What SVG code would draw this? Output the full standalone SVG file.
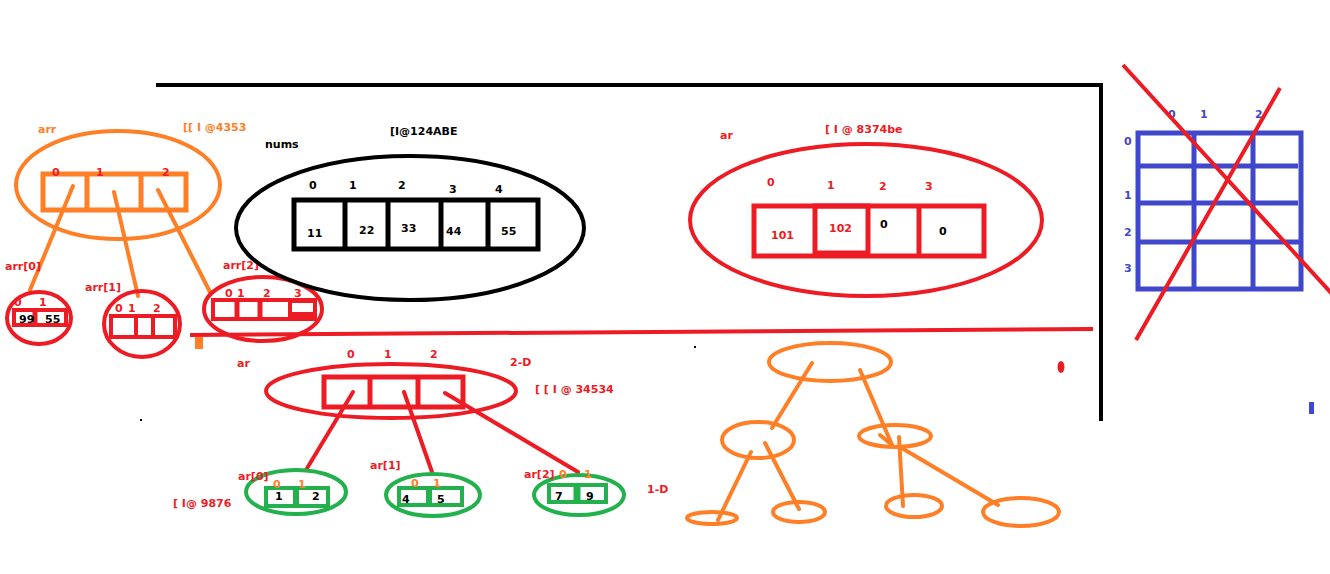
<svg xmlns="http://www.w3.org/2000/svg" width="1330" height="574" viewBox="0 0 1330 574">
<style>
text{font-family:"DejaVu Sans","Liberation Sans",sans-serif;font-weight:bold;font-size:11px}
.o{fill:#FF7F27}.r{fill:#ED1C24}.k{fill:#000}.b{fill:#3F48CC}
.so{fill:none;stroke:#FF7F27;stroke-width:4}
.sr{fill:none;stroke:#ED1C24;stroke-width:4}
.sk{fill:none;stroke:#000;stroke-width:4}
.sg{fill:none;stroke:#22B14C;stroke-width:4}
.sb{fill:none;stroke:#3F48CC;stroke-width:5}
.lo{stroke:#FF7F27;stroke-width:4;stroke-linecap:round;fill:none}
.lr{stroke:#ED1C24;stroke-width:4;stroke-linecap:round;fill:none}
</style>
<rect width="1330" height="574" fill="#fff"/>

<g id="frame">
<path d="M156 85H1101V421" fill="none" stroke="#000" stroke-width="4"/>
<path d="M190 335L1093 329" stroke="#ED1C24" stroke-width="4" fill="none"/>
<rect x="195" y="337" width="8" height="12" fill="#FF7F27"/>
<ellipse cx="1061" cy="367" rx="3.5" ry="6" fill="#ED1C24"/>
<rect x="1309" y="402" width="5" height="12" fill="#3F48CC"/>
<rect x="140" y="419" width="2" height="2" fill="#000"/>
<rect x="694" y="346" width="2" height="2" fill="#000"/>
</g>

<g id="connectors">
<path class="lo" d="M73 186L30 290"/>
<path class="lo" d="M114 192L138 296"/>
<path class="lo" d="M158 190L210 292"/>
<path class="lr" d="M353 392L306 470"/>
<path class="lr" d="M404 392L432 472"/>
<path class="lr" d="M445 393L578 472"/>
<path class="lo" d="M812 363L772 428"/>
<path class="lo" d="M860 370L892 445"/>
<path class="lo" d="M880 435L892 445"/>
<path class="lo" d="M751 452L718 520"/>
<path class="lo" d="M765 443L799 509"/>
<path class="lo" d="M899 437L903 506"/>
<path class="lo" d="M900 447L998 505"/>
</g>

<g id="arr">
<ellipse class="so" cx="118" cy="185" rx="102" ry="54"/>
<rect x="43" y="174" width="143" height="36" fill="none" stroke="#FF7F27" stroke-width="5"/>
<path d="M87 174V210M141 174V210" stroke="#FF7F27" stroke-width="5"/>
<text x="38" y="133" class="o">arr</text>
<text x="183" y="131" class="o">[[ I @4353</text>
<text x="52" y="176" class="r">0</text>
<text x="96" y="176" class="r">1</text>
<text x="162" y="176" class="r">2</text>
</g>

<g id="arr0">
<ellipse class="sr" cx="39" cy="318" rx="32" ry="26"/>
<rect x="14" y="310" width="52" height="15" fill="none" stroke="#ED1C24" stroke-width="4"/>
<path d="M35 310V325" stroke="#ED1C24" stroke-width="5"/>
<text x="5" y="270" class="r">arr[0]</text>
<text x="14" y="306" class="r">0</text>
<text x="39" y="306" class="r">1</text>
<text x="19" y="323" class="k">99</text>
<text x="45" y="323" class="k">55</text>
</g>

<g id="arr1">
<ellipse class="sr" cx="142" cy="324" rx="38" ry="33"/>
<rect x="111" y="316" width="64" height="21" fill="none" stroke="#ED1C24" stroke-width="4"/>
<path d="M136 316V337M153 316V337" stroke="#ED1C24" stroke-width="4"/>
<text x="85" y="291" class="r">arr[1]</text>
<text x="115" y="312" class="r">0</text>
<text x="128" y="312" class="r">1</text>
<text x="153" y="312" class="r">2</text>
</g>

<g id="arr2">
<ellipse class="sr" cx="263" cy="309" rx="59" ry="32"/>
<rect x="213" y="300" width="102" height="19" fill="none" stroke="#ED1C24" stroke-width="4"/>
<path d="M237 300V319M260 300V319" stroke="#ED1C24" stroke-width="5"/>
<rect x="288" y="300" width="27" height="19" fill="#ED1C24"/>
<rect x="292" y="303" width="21" height="9" fill="#fff"/>
<text x="223" y="269" class="r">arr[2]</text>
<text x="225" y="297" class="r">0</text>
<text x="237" y="297" class="r">1</text>
<text x="263" y="297" class="r">2</text>
<text x="294" y="297" class="r">3</text>
</g>

<g id="nums">
<ellipse class="sk" cx="410" cy="228" rx="174" ry="72"/>
<rect x="294" y="200" width="244" height="49" fill="none" stroke="#000" stroke-width="5"/>
<path d="M345 200V249M388 200V249M441 200V249M488 200V249" stroke="#000" stroke-width="5"/>
<text x="265" y="148" class="k">nums</text>
<text x="390" y="135" class="k">[I@124ABE</text>
<text x="309" y="189" class="k">0</text>
<text x="349" y="189" class="k">1</text>
<text x="398" y="189" class="k">2</text>
<text x="449" y="193" class="k">3</text>
<text x="495" y="193" class="k">4</text>
<text x="307" y="237" class="k">11</text>
<text x="359" y="234" class="k">22</text>
<text x="401" y="232" class="k">33</text>
<text x="446" y="235" class="k">44</text>
<text x="501" y="235" class="k">55</text>
</g>

<g id="ar1d">
<ellipse class="sr" cx="866" cy="220" rx="176" ry="76"/>
<rect x="754" y="206" width="230" height="50" fill="none" stroke="#ED1C24" stroke-width="5"/>
<rect x="815" y="206" width="53" height="47" fill="none" stroke="#ED1C24" stroke-width="5"/>
<path d="M919 206V256" stroke="#ED1C24" stroke-width="5"/>
<text x="720" y="139" class="r">ar</text>
<text x="825" y="133" class="r">[ I @ 8374be</text>
<text x="767" y="186" class="r">0</text>
<text x="827" y="189" class="r">1</text>
<text x="879" y="190" class="r">2</text>
<text x="925" y="190" class="r">3</text>
<text x="771" y="239" class="r">101</text>
<text x="829" y="232" class="r">102</text>
<text x="880" y="228" class="k">0</text>
<text x="939" y="235" class="k">0</text>
</g>

<g id="grid">
<rect x="1138" y="133" width="163" height="156" class="sb"/>
<path d="M1138 166H1298M1138 203H1298M1138 242H1303M1194 133V289M1253 133V289" class="sb"/>
<text x="1168" y="118" class="b">0</text>
<text x="1200" y="118" class="b">1</text>
<text x="1255" y="118" class="b">2</text>
<text x="1124" y="145" class="b">0</text>
<text x="1124" y="199" class="b">1</text>
<text x="1124" y="236" class="b">2</text>
<text x="1124" y="272" class="b">3</text>
<path d="M1123 65L1332 294M1280 88L1136 340" stroke="#ED1C24" stroke-width="4" fill="none"/>
</g>

<g id="ar2d">
<ellipse class="sr" cx="391" cy="391" rx="125" ry="27"/>
<rect x="324" y="377" width="139" height="30" fill="none" stroke="#ED1C24" stroke-width="5"/>
<path d="M370 377V407M418 377V407" stroke="#ED1C24" stroke-width="5"/>
<text x="237" y="367" class="r">ar</text>
<text x="347" y="358" class="r">0</text>
<text x="384" y="358" class="r">1</text>
<text x="430" y="358" class="r">2</text>
<text x="510" y="366" class="r">2-D</text>
<text x="535" y="393" class="r">[ [ I @ 34534</text>
</g>

<g id="ar0">
<ellipse class="sg" cx="296" cy="492" rx="50" ry="22"/>
<rect x="266" y="488" width="62" height="18" fill="none" stroke="#22B14C" stroke-width="4"/>
<path d="M296 488V506" stroke="#22B14C" stroke-width="6"/>
<text x="238" y="480" class="r">ar[0]</text>
<text x="273" y="488" class="o">0</text>
<text x="298" y="488" class="o">1</text>
<text x="275" y="500" class="k">1</text>
<text x="312" y="500" class="k">2</text>
<text x="173" y="507" class="r">[ I@ 9876</text>
</g>

<g id="ar1">
<ellipse class="sg" cx="433" cy="495" rx="47" ry="21"/>
<rect x="399" y="488" width="63" height="17" fill="none" stroke="#22B14C" stroke-width="4"/>
<path d="M429 488V505" stroke="#22B14C" stroke-width="6"/>
<text x="370" y="469" class="r">ar[1]</text>
<text x="411" y="487" class="o">0</text>
<text x="433" y="487" class="o">1</text>
<text x="402" y="503" class="k">4</text>
<text x="437" y="503" class="k">5</text>
</g>

<g id="ar2">
<ellipse class="sg" cx="579" cy="495" rx="45" ry="20"/>
<rect x="549" y="485" width="57" height="17" fill="none" stroke="#22B14C" stroke-width="4"/>
<path d="M577 485V504" stroke="#22B14C" stroke-width="7"/>
<text x="524" y="478" class="r">ar[2]</text>
<text x="559" y="478" class="o">0</text>
<text x="584" y="478" class="o">1</text>
<text x="555" y="500" class="k">7</text>
<text x="586" y="500" class="k">9</text>
<text x="647" y="493" class="r">1-D</text>
</g>

<g id="tree">
<ellipse class="so" cx="830" cy="362" rx="61" ry="19"/>
<ellipse class="so" cx="758" cy="440" rx="36" ry="18"/>
<ellipse class="so" cx="895" cy="436" rx="36" ry="11"/>
<ellipse class="so" cx="712" cy="518" rx="25" ry="6"/>
<ellipse class="so" cx="799" cy="512" rx="26" ry="10"/>
<ellipse class="so" cx="914" cy="506" rx="28" ry="11"/>
<ellipse class="so" cx="1021" cy="512" rx="38" ry="14"/>
</g>
</svg>
